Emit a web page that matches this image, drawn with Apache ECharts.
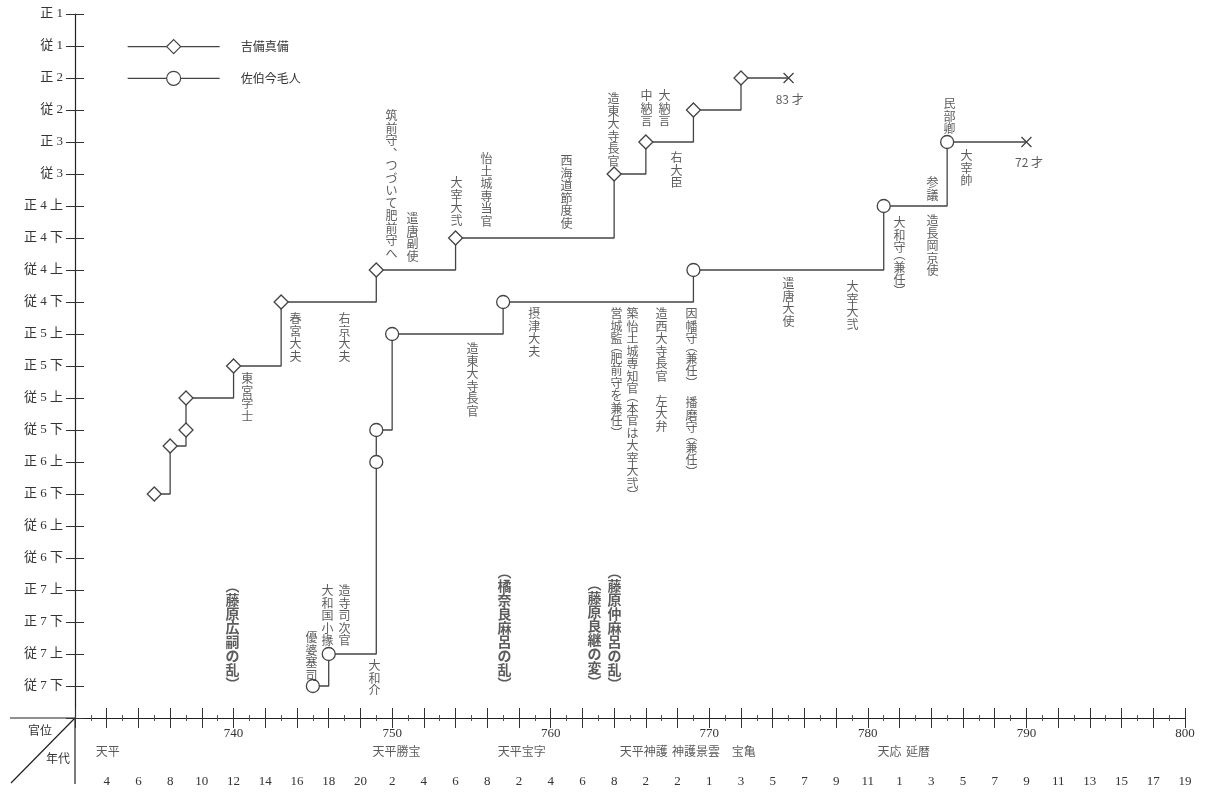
<!DOCTYPE html>
<html>
<head>
<meta charset="utf-8">
<script src="https://cdn.jsdelivr.net/npm/echarts@6/dist/echarts.min.js"></script>
<style>
    html, body {margin: 0; padding: 0; background: #fff;}
    #main {width: 1205px; height: 795px;}
</style>
</head>
<body>
<div id="main"></div>
<script>
// 官位 (top -> bottom), index = position on the y axis
var rankLabels = ['正 1', '従 1', '正 2', '従 2', '正 3', '従 3', '正 4 上', '正 4 下', '従 4 上', '従 4 下',
    '正 5 上', '正 5 下', '従 5 上', '従 5 下', '正 6 上', '正 6 下', '従 6 上', '従 6 下',
    '正 7 上', '正 7 下', '従 7 上', '従 7 下'];

// era year numbers under every second year, 730 .. 800
var eraYearLabels = ['', '4', '6', '8', '10', '12', '14', '16', '18', '20',
    '2', '4', '6', '8', '2', '4', '6', '8', '2', '2',
    '1', '3', '5', '7', '9', '11', '1', '3', '5', '7', '9', '11', '13', '15', '17', '19'];

// era names [name, year]
var eraNames = [['天平', 732.1], ['天平勝宝', 750.3], ['天平宝字', 758.2], ['天平神護', 765.9],
    ['神護景雲', 769.2], ['宝亀', 772.2], ['天応', 781.4], ['延暦', 783.2]];

// [year, rank index]
var kibiData = [[735, 15], [736, 13.5], [737, 13], [737, 12], [740, 11], [743, 9], [749, 8],
    [754, 7], [764, 5], [766, 4], [769, 3], [772, 2]];
var kibiDeath = [775, 2];

var saekiData = [[745, 21], [746, 20], [749, 14], [749, 13], [750, 10], [757, 9], [769, 8],
    [781, 6], [785, 4]];
var saekiDeath = [790, 4];

// vertical notes [year, rank at top of text, text]
var kibiNotes = [
    [740.9, 11.22, '東宮学士'],
    [743.94, 9.34, '春宮大夫'],
    [747.03, 9.34, '右京大夫'],
    [749.99, 3.0, '筑前守、つづいて肥前守へ'],
    [751.32, 6.22, '遣唐副使'],
    [754.09, 5.09, '大宰大弐'],
    [755.98, 4.34, '怡土城専当官'],
    [761.03, 4.41, '西海道節度使'],
    [763.99, 2.47, '造東大寺長官'],
    [766.07, 2.37, '中納言'],
    [767.21, 2.37, '大納言'],
    [767.96, 4.31, '右大臣']
];
var saekiNotes = [
    [744.95, 19.31, '優婆塞司'],
    [745.96, 17.84, '大和国小掾'],
    [747.03, 17.84, '造寺司次官'],
    [748.92, 20.19, '大和介'],
    [755.1, 10.28, '造東大寺長官'],
    [759.0, 9.19, '摂津大夫'],
    [764.18, 9.19, '営城監（肥前守を兼任）'],
    [765.19, 9.19, '築怡土城専知官（本官は大宰大弐）'],
    [767.02, 9.19, '造西大寺長官　左大弁'],
    [768.91, 9.19, '因幡守（兼任）　播磨守（兼任）'],
    [775.03, 8.25, '遣唐大使'],
    [779.06, 8.34, '大宰大弐'],
    [782.03, 6.34, '大和守（兼任）'],
    [784.11, 6.28, '造長岡京使'],
    [784.11, 5.09, '参議'],
    [785.18, 2.62, '民部卿'],
    [786.25, 4.25, '大宰帥']
];
var eventNotes = [
    [739.96, 17.85, '（藤原広嗣の乱）'],
    [757.12, 17.42, '（橘奈良麻呂の乱）'],
    [762.79, 17.8, '（藤原良継の変）'],
    [764.05, 17.42, '（藤原仲麻呂の乱）']
];
var ageNotes = [[775.1, 2.7, '83 才'], [790.2, 4.66, '72 才']];

var JP = '"Noto Sans CJK JP", sans-serif';
var SERIF = '"Liberation Serif", "Noto Sans CJK JP", serif';
var INK = '#333';
var LINE = '#444';
var CROSS = 'path://M0,0L10,10M10,0L0,10';

// one character per line, vertical forms for brackets and commas
function vert(s) {
    return s.split('').map(function (c) {
        if (c === '（') return '{po|︵}';
        if (c === '）') return '{pc|︶}';
        if (c === '、') return '{cm|︑}';
        if (c === '　') return ' ';
        return c;
    }).join('\n');
}

function noteSeries(notes, size, weight, lh) {
    var base = {fontSize: size, fontWeight: weight, color: INK, fontFamily: JP};
    return {
        type: 'scatter',
        silent: true,
        clip: false,
        symbolSize: 1,
        itemStyle: {color: 'rgba(0,0,0,0)'},
        data: notes.map(function (n) {
            return {value: [n[0], n[1]], text: n[2]};
        }),
        label: {
            show: true,
            position: [0, 0],
            align: 'center',
            verticalAlign: 'top',
            fontFamily: JP,
            fontSize: size,
            fontWeight: weight,
            lineHeight: lh,
            color: INK,
            formatter: function (p) {
                return vert(p.data.text);
            },
            rich: {
                po: echarts.util.extend({lineHeight: Math.round(size * 0.55), padding: [0, 0, Math.round(size * 0.45), 0]}, base),
                pc: echarts.util.extend({lineHeight: Math.round(size * 0.55), padding: [Math.round(size * 0.45), 0, 0, 0]}, base),
                cm: echarts.util.extend({lineHeight: lh}, base)
            }
        },
        emphasis: {disabled: true},
        z: 5
    };
}

function personSeries(name, symbol, size, data, death) {
    var pts = data.slice();
    pts.push({
        value: death,
        symbol: CROSS,
        symbolSize: 10,
        itemStyle: {color: 'rgba(0,0,0,0)', borderColor: LINE, borderWidth: 1.3}
    });
    return {
        name: name,
        type: 'line',
        step: 'end',
        data: pts,
        symbol: symbol,
        symbolSize: size,
        showAllSymbol: true,
        lineStyle: {color: LINE, width: 1.3},
        itemStyle: {color: '#fff', borderColor: LINE, borderWidth: 1.3},
        emphasis: {disabled: true},
        z: 3
    };
}

var myChart = echarts.init(document.getElementById('main'));

var baseX = {
    type: 'value', min: 730, max: 800, interval: 2, position: 'bottom',
    splitLine: {show: false}, minorSplitLine: {show: false}
};

var option = {
    animation: false,
    backgroundColor: '#fff',
    grid: {left: 75, right: 20, top: 14, bottom: 77, containLabel: false},
    legend: {
        data: ['吉備真備', '佐伯今毛人'],
        orient: 'vertical',
        left: 122,
        top: 34,
        itemWidth: 92,
        itemHeight: 17.5,
        itemGap: 16.5,
        itemStyle: {color: '#fff', borderColor: LINE, borderWidth: 1.2},
        lineStyle: {color: LINE, width: 1.3},
        textStyle: {fontFamily: JP, fontSize: 12, color: INK, padding: [0, 0, 0, 16]},
        selectedMode: false
    },
    xAxis: [
        echarts.util.merge({
            axisLine: {onZero: false, lineStyle: {color: '#222', width: 1.2}},
            axisTick: {length: 10, lineStyle: {color: '#333'}},
            minorTick: {show: true, splitNumber: 2, length: 3, lineStyle: {color: '#555'}},
            axisLabel: {
                margin: 9, fontFamily: SERIF, fontSize: 13, color: INK,
                formatter: function (v) {
                    return (v % 10 === 0 && v > 730) ? String(v) : '';
                }
            }
        }, baseX, true),
        echarts.util.merge({
            axisLine: {show: false, onZero: false},
            axisTick: {inside: true, length: 10, lineStyle: {color: '#333'}},
            minorTick: {show: true, splitNumber: 2, length: 3, lineStyle: {color: '#555'}},
            axisLabel: {show: false}
        }, baseX, true),
        echarts.util.merge({
            axisLine: {show: false, onZero: false},
            axisTick: {show: false},
            axisLabel: {
                margin: 57, fontFamily: SERIF, fontSize: 13, color: INK,
                formatter: function (v) {
                    return eraYearLabels[Math.round((v - 730) / 2)] || '';
                }
            }
        }, baseX, true)
    ],
    yAxis: [
        {
            type: 'value', inverse: true, min: 0, max: 22, interval: 1, position: 'left',
            splitLine: {show: false},
            axisLine: {onZero: false, lineStyle: {color: '#222', width: 1.2}},
            axisTick: {length: 9, lineStyle: {color: '#333'}},
            axisLabel: {
                margin: 12, fontFamily: SERIF, fontSize: 13, color: INK,
                formatter: function (v) {
                    return rankLabels[v] || '';
                }
            }
        },
        {
            type: 'value', inverse: true, min: 0, max: 22, interval: 1, position: 'left',
            splitLine: {show: false},
            axisLine: {show: false, onZero: false},
            axisTick: {inside: true, length: 9, lineStyle: {color: '#333'}},
            axisLabel: {show: false}
        }
    ],
    graphic: [
        {type: 'line', shape: {x1: 75, y1: 718, x2: 75, y2: 784}, style: {stroke: '#222', lineWidth: 1.2}, silent: true},
        {type: 'line', shape: {x1: 10, y1: 718, x2: 75, y2: 718}, style: {stroke: '#222', lineWidth: 1.2}, silent: true},
        {type: 'line', shape: {x1: 75, y1: 718, x2: 11, y2: 783}, style: {stroke: '#222', lineWidth: 1.2}, silent: true},
        {type: 'text', x: 40, y: 730, style: {text: '官位', font: '12px ' + JP, fill: INK, align: 'center', verticalAlign: 'middle'}, silent: true},
        {type: 'text', x: 58, y: 758, style: {text: '年代', font: '12px ' + JP, fill: INK, align: 'center', verticalAlign: 'middle'}, silent: true}
    ],
    series: [
        personSeries('吉備真備', 'diamond', 14, kibiData, kibiDeath),
        personSeries('佐伯今毛人', 'circle', 13, saekiData, saekiDeath),
        noteSeries(kibiNotes, 12, 'normal', 12.5),
        noteSeries(saekiNotes, 12, 'normal', 12.5),
        noteSeries(eventNotes, 14, 'bold', 14),
        {
            type: 'scatter', silent: true, clip: false, symbolSize: 1,
            itemStyle: {color: 'rgba(0,0,0,0)'},
            data: ageNotes.map(function (n) {
                return {value: [n[0], n[1]], text: n[2]};
            }),
            label: {
                show: true, position: [0, 0], align: 'center', verticalAlign: 'middle',
                fontFamily: JP, fontSize: 12, color: INK,
                formatter: function (p) {
                    return p.data.text;
                }
            },
            emphasis: {disabled: true}
        },
        {
            type: 'scatter', silent: true, clip: false, symbolSize: 1,
            itemStyle: {color: 'rgba(0,0,0,0)'},
            data: eraNames.map(function (e) {
                return {value: [e[1], 23.06], text: e[0]};
            }),
            label: {
                show: true, position: [0, 0], align: 'center', verticalAlign: 'middle',
                fontFamily: JP, fontSize: 12, color: INK,
                formatter: function (p) {
                    return p.data.text;
                }
            },
            emphasis: {disabled: true}
        }
    ]
};

myChart.setOption(option);
</script>
</body>
</html>
